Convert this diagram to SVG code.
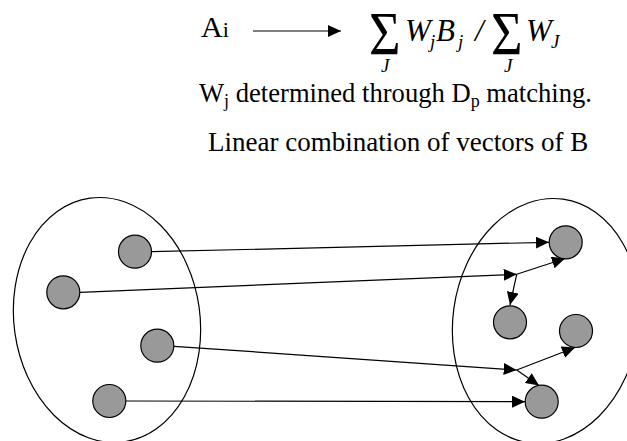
<svg xmlns="http://www.w3.org/2000/svg" width="627" height="441" viewBox="0 0 627 441">
  <style>
    .serif { font-family: "Liberation Serif", "Times New Roman", serif; fill: #000; }
    .it { font-style: italic; }
    .set { fill: none; stroke: #000; stroke-width: 1.2; }
    .pt { fill: #999999; stroke: #000; stroke-width: 1.2; }
    .link { fill: none; stroke: #000; stroke-width: 1.2; marker-end: url(#head); }
  </style>
  <defs>
    <marker id="head" markerUnits="userSpaceOnUse" markerWidth="14" markerHeight="12" refX="13" refY="6" orient="auto">
      <path d="M0,0 L13,6 L0,12 z" fill="#000"/>
    </marker>
  </defs>
  <rect width="627" height="441" fill="#fff"/>

  <!-- Mapping formula -->
  <g id="formula">
    <text class="serif" x="201" y="37" font-size="30">A<tspan font-size="22">i</tspan></text>
    <line class="link" x1="253" y1="31" x2="341" y2="31"/>
    <text class="serif" font-size="48" transform="translate(369,54) scale(1.13,1.26)">Σ</text>
    <text class="serif it" x="381" y="72" font-size="19">J</text>
    <text class="serif it" x="405" y="41" font-size="31">W</text>
    <text class="serif it" x="430" y="48" font-size="19">j</text>
    <text class="serif it" x="436" y="41" font-size="31">B</text>
    <text class="serif it" x="458" y="48" font-size="19">j</text>
    <text class="serif it" x="475" y="41" font-size="31">/</text>
    <text class="serif" font-size="48" transform="translate(491,54) scale(1.13,1.26)">Σ</text>
    <text class="serif it" x="504" y="72" font-size="19">J</text>
    <text class="serif it" x="526" y="41" font-size="31">W</text>
    <text class="serif it" x="551" y="48" font-size="19">J</text>
  </g>
  <g id="caption-weights">
    <text class="serif" x="199" y="102" font-size="26.6">W<tspan font-size="18" dy="5">j</tspan><tspan dy="-5"> determined through D</tspan><tspan font-size="18" dy="5">p</tspan><tspan dy="-5"> matching.</tspan></text>
  </g>
  <g id="caption-combination">
    <text class="serif" x="208" y="151" font-size="27">Linear combination of vectors of B</text>
  </g>

  <!-- Source set A -->
  <g id="set-a">
    <ellipse class="set" cx="107" cy="320" rx="93" ry="123" transform="rotate(-8 107 320)"/>
  </g>
  <g id="a1"><circle class="pt" cx="135" cy="251.7" r="16.5"/></g>
  <g id="a2"><circle class="pt" cx="63.3" cy="292.3" r="16.5"/></g>
  <g id="a3"><circle class="pt" cx="157.3" cy="345.7" r="16.5"/></g>
  <g id="a4"><circle class="pt" cx="109.3" cy="401" r="16.5"/></g>

  <!-- Target set B -->
  <g id="set-b">
    <ellipse class="set" cx="546" cy="321" rx="93" ry="123" transform="rotate(8 546 321)"/>
  </g>
  <g id="b1"><circle class="pt" cx="565.7" cy="242.3" r="16.5"/></g>
  <g id="b2"><circle class="pt" cx="510" cy="322.3" r="16.5"/></g>
  <g id="b3"><circle class="pt" cx="576" cy="331" r="16.5"/></g>
  <g id="b4"><circle class="pt" cx="541.7" cy="401.7" r="16.5"/></g>

  <!-- Correspondences -->
  <g id="connectors">
    <line class="link" x1="151.5" y1="251.7" x2="549" y2="242.3"/>
    <line class="link" x1="80" y1="292.3" x2="516.7" y2="274.3"/>
    <line class="link" x1="516.7" y1="274.3" x2="565" y2="258.5"/>
    <line class="link" x1="516.7" y1="274.3" x2="510" y2="305"/>
    <line class="link" x1="174" y1="346.3" x2="516.7" y2="370"/>
    <line class="link" x1="516.7" y1="370" x2="575" y2="347.5"/>
    <line class="link" x1="516.7" y1="370" x2="539" y2="385.5"/>
    <line class="link" x1="126" y1="401" x2="525" y2="401.7"/>
  </g>
</svg>
